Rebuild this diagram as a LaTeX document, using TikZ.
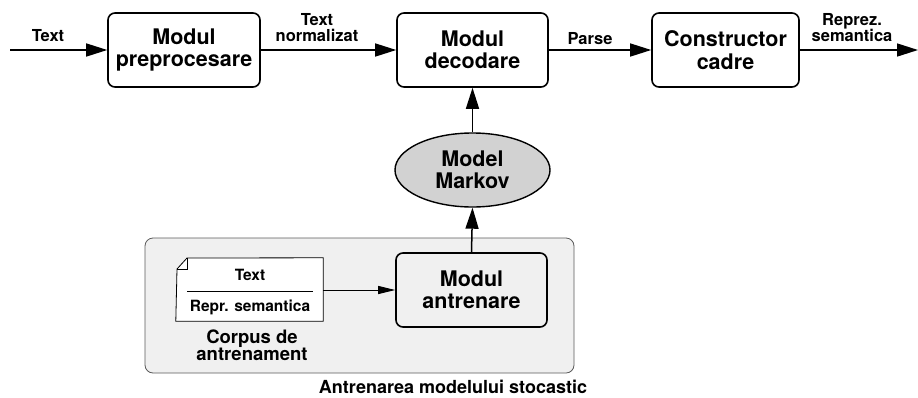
\documentclass[tikz,border=0pt]{standalone}
\usepackage{fontspec}
\setmainfont{TeX Gyre Heros}
\usetikzlibrary{arrows.meta,shapes.geometric}
\definecolor{panelfill}{RGB}{240,240,240}
\definecolor{panelline}{RGB}{90,90,90}
\definecolor{ellfill}{RGB}{210,210,210}
\tikzset{
  modbox/.style={draw, line width=1.6pt, rounded corners=7pt, align=center,
    font=\fontsize{21.5}{22.5}\selectfont\bfseries, inner sep=0pt},
  lbl/.style={align=center, font=\fontsize{16.5}{16}\selectfont\bfseries, inner sep=0pt},
  doclbl/.style={align=center, font=\fontsize{15.5}{16}\selectfont\bfseries, inner sep=0pt},
  flow/.style={line width=1.5pt, -{Triangle[length=21pt,width=13pt]}},
  thinflow/.style={line width=0.9pt, -{Triangle[length=17pt,width=8pt]}},
}
\begin{document}
\begin{tikzpicture}[x=1pt,y=-1pt]
\useasboundingbox (0,0) rectangle (918,397);
% training panel
\node[draw=panelline, fill=panelfill, line width=0.8pt, rounded corners=8pt,
  minimum width=429pt, minimum height=135pt, inner sep=0pt] (panel) at (359.5,305.5) {};
% main boxes
\node[modbox, minimum width=152pt, minimum height=74pt] (pre) at (184,50) {Modul\\preprocesare};
\node[modbox, minimum width=151pt, minimum height=74pt] (dec) at (472.5,50) {Modul\\decodare};
\node[modbox, minimum width=147pt, minimum height=74pt] (con) at (725.5,50) {Constructor\\cadre};
\node[draw, ellipse, line width=1.4pt, fill=ellfill, minimum width=155pt, minimum height=74pt,
  inner sep=0pt, align=center, font=\fontsize{21.5}{22.5}\selectfont\bfseries] (mk) at (472.5,170) {Model\\Markov};
\node[modbox, minimum width=151pt, minimum height=74pt] (ant) at (471.5,290) {Modul\\antrenare};
% document
\node[minimum width=147pt, minimum height=63pt, inner sep=0pt] (doc) at (249.5,289.5) {};
\draw[line width=0.8pt, fill=white] (187,258) -- (doc.north east) -- (doc.south east) -- (doc.south west) -- (177,269) -- cycle;
\draw[line width=0.8pt] (187,258) -- (187,269) -- (177,269);
\node[doclbl] (dtext) at (250,275) {Text};
\node[doclbl] (drepr) at (250,307) {Repr. semantica};
\coordinate (sepl) at (187,291);
\coordinate (sepr) at (313,291);
\draw[line width=0.8pt] (sepl) -- (sepr);
% labels
\node[lbl] (ltext) at (48,36) {Text};
\node[lbl] (lnorm) at (317,28) {Text\\normalizat};
\node[lbl] (lparse) at (590,39) {Parse};
\node[lbl] (lrep) at (852,28) {Reprez.\\semantica};
\node[lbl, font=\fontsize{18.5}{17}\selectfont\bfseries] (lcorp) at (252,345) {Corpus de\\antrenament};
\node[lbl, font=\fontsize{18}{18}\selectfont\bfseries] (lcap) at (453,387) {Antrenarea modelului stocastic};
% connectors
\coordinate (in) at (10,50);
\coordinate (out) at (918,50);
\draw[flow] (in) -- (pre.west);
\draw[flow] (pre.east) -- (dec.west);
\draw[flow] (dec.east) -- (con.west);
\draw[flow] (con.east) -- (out);
\draw[flow] (mk.north) -- (dec.south);
\draw[flow] (ant.north) -- (mk.south);
\draw[thinflow] (doc.east |- ant.west) -- (ant.west);
\end{tikzpicture}
\end{document}
